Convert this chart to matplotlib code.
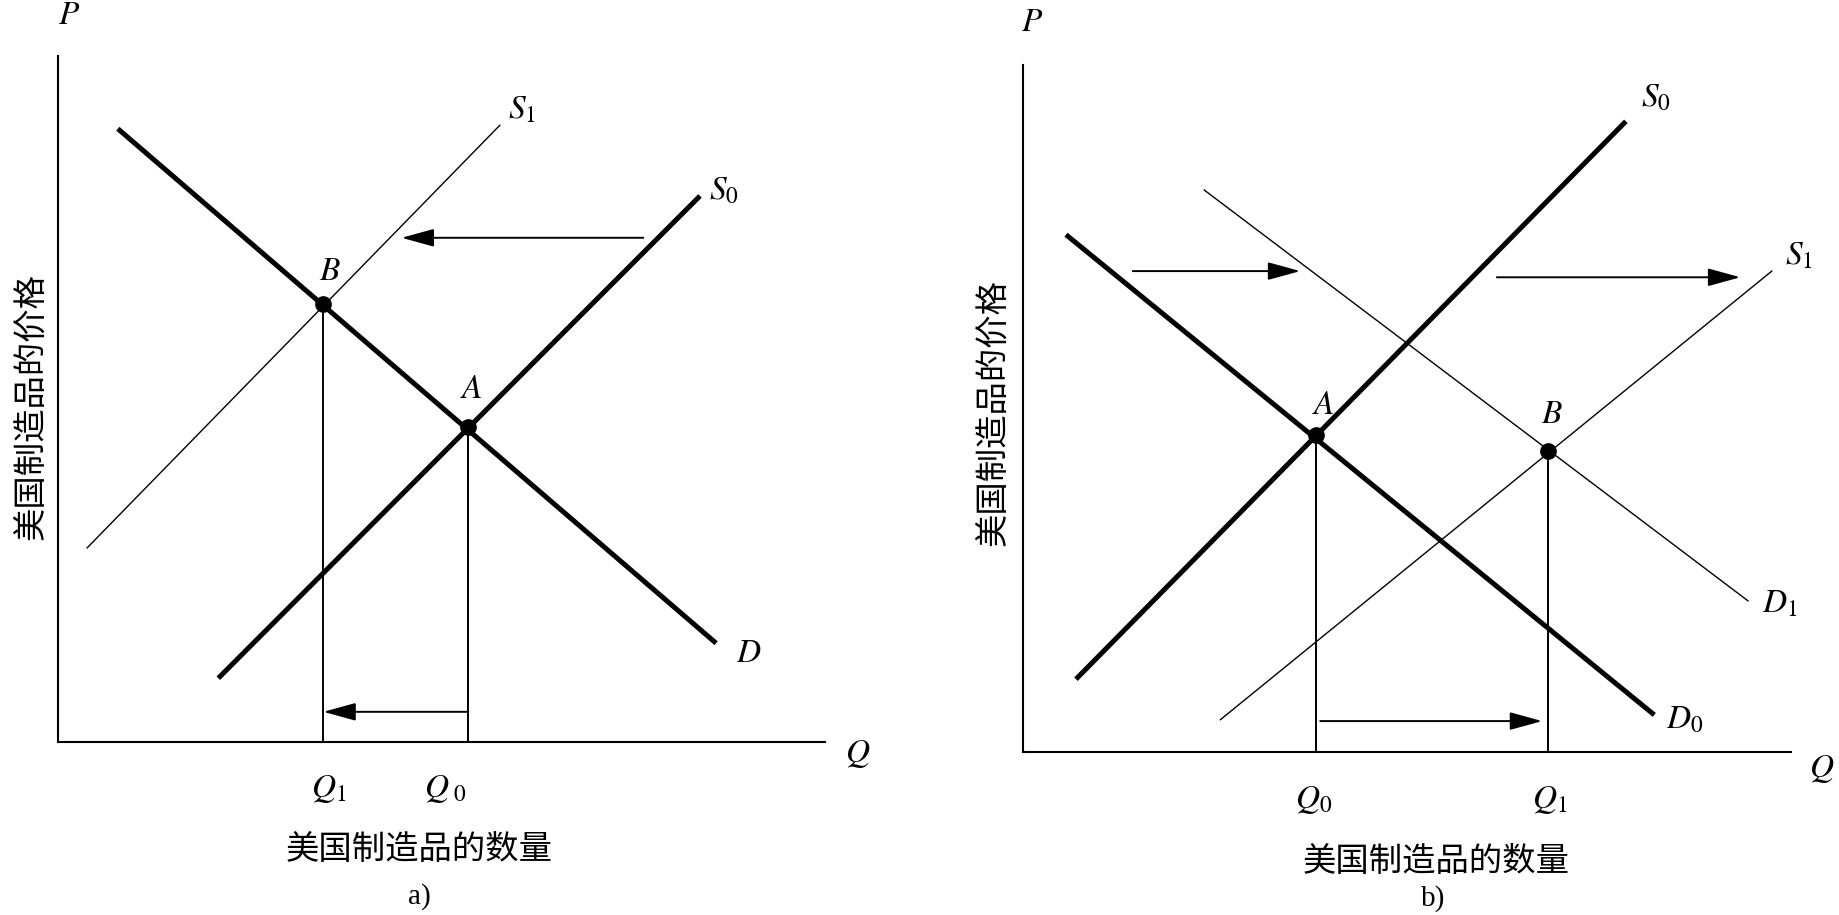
"""两幅供求移动示意图：a) 供给左移  b) 需求与供给同时右移"""

import matplotlib
matplotlib.use("Agg")
import matplotlib.pyplot as plt

plt.rcParams['font.family'] = ['Noto Sans CJK SC', 'DejaVu Sans']
plt.rcParams['mathtext.fontset'] = 'stix'

# ---- 数据 (Q, P)，坐标 0..100 ----
# 图 a)
a_D = ([7.8, 85.8], [89.4, 14.4])
a_S0 = ([20.9, 83.7], [9.3, 79.6])
a_S1 = ([3.8, 57.6], [28.3, 89.9])
a_A = (53.5, 45.9)
a_B = (34.6, 63.8)
a_arrows = [((76.3, 73.5), (44.8, 73.5)),
            ((53.5, 4.4), (34.6, 4.4))]
a_labels = [("$S_1$", 60.5, 92.3), ("$S_0$", 86.8, 80.5), ("$D$", 90.1, 13.0),
            ("$B$", 35.5, 68.8), ("$A$", 53.9, 51.5),
            ("$Q_1$", 35.3, -6.6), ("$Q_{\\ 0}$", 50.5, -6.6),
            ("$P$", 1.5, 106.0), ("$Q$", 104.3, -1.5)]

# 图 b)
b_S0 = ([6.9, 78.5], [10.6, 91.8])
b_D0 = ([5.6, 82.2], [75.3, 5.4])
b_D1 = ([23.6, 94.4], [81.8, 22.0])
b_S1 = ([25.7, 97.5], [4.7, 70.0])
b_A = (38.2, 46.1)
b_B = (68.3, 43.8)
b_arrows = [((14.3, 70.0), (36.1, 70.0)),
            ((61.7, 69.1), (93.4, 69.1)),
            ((38.7, 4.5), (67.6, 4.5))]
b_labels = [("$S_0$", 82.4, 95.3), ("$S_1$", 101.0, 72.3), ("$D_1$", 98.5, 21.7),
            ("$D_0$", 86.1, 4.8), ("$B$", 68.9, 49.2), ("$A$", 39.1, 50.6),
            ("$Q_0$", 37.9, -6.8), ("$Q_1$", 68.6, -6.8),
            ("$P$", 1.2, 106.4), ("$Q$", 104.0, -2.2)]

fig = plt.figure(figsize=(18.39, 9.15), dpi=100)


def panel(rect, thick, thin, pts, arrows, labels):
    ax = fig.add_axes(rect)
    ax.set_xlim(0, 100)
    ax.set_ylim(0, 100)
    ax.axis('off')
    # 坐标轴
    ax.plot([0, 0], [0, 100], color='black', lw=1.5, clip_on=False)
    ax.plot([0, 100], [0, 0], color='black', lw=1.5, clip_on=False)
    for q, p in thick:
        ax.plot(q, p, color='black', lw=3.6, solid_capstyle='butt', clip_on=False)
    for q, p in thin:
        ax.plot(q, p, color='black', lw=1.0, clip_on=False)
    for q, p in pts:
        ax.plot([q, q], [0, p], color='black', lw=1.4, clip_on=False)
        ax.plot(q, p, marker='o', ms=11, color='black', clip_on=False)
    for start, end in arrows:
        ax.annotate('', xy=end, xytext=start,
                    arrowprops=dict(arrowstyle='-|>,head_length=0.8,head_width=0.22',
                                    mutation_scale=25, lw=1.4, color='black',
                                    shrinkA=0, shrinkB=0))
    for txt, q, p in labels:
        ax.text(q, p, txt, fontsize=24, ha='center', va='center')
    return ax


panel([58 / 1839, 173 / 915, 767 / 1839, 686 / 915],
      [a_D, a_S0], [a_S1], [a_A, a_B], a_arrows, a_labels)
panel([1023 / 1839, 163 / 915, 768 / 1839, 687 / 915],
      [b_S0, b_D0], [b_D1, b_S1], [b_A, b_B], b_arrows, b_labels)

# 轴标题
fig.text(419 / 1839, 1 - 849 / 915, "美国制造品的数量", fontsize=24, ha='center', va='center')
fig.text(419 / 1839, 1 - 897 / 915, "a)", fontsize=21, ha='center', va='center',
         family='Liberation Serif')
fig.text(32 / 1839, 1 - 407 / 915, "美国制造品的价格", fontsize=24, ha='center', va='center',
         rotation=90)
fig.text(1436 / 1839, 1 - 861 / 915, "美国制造品的数量", fontsize=24, ha='center', va='center')
fig.text(1433 / 1839, 1 - 899 / 915, "b)", fontsize=21, ha='center', va='center',
         family='Liberation Serif')
fig.text(994 / 1839, 1 - 413 / 915, "美国制造品的价格", fontsize=24, ha='center', va='center',
         rotation=90)

fig.savefig("out.png", dpi=100)
